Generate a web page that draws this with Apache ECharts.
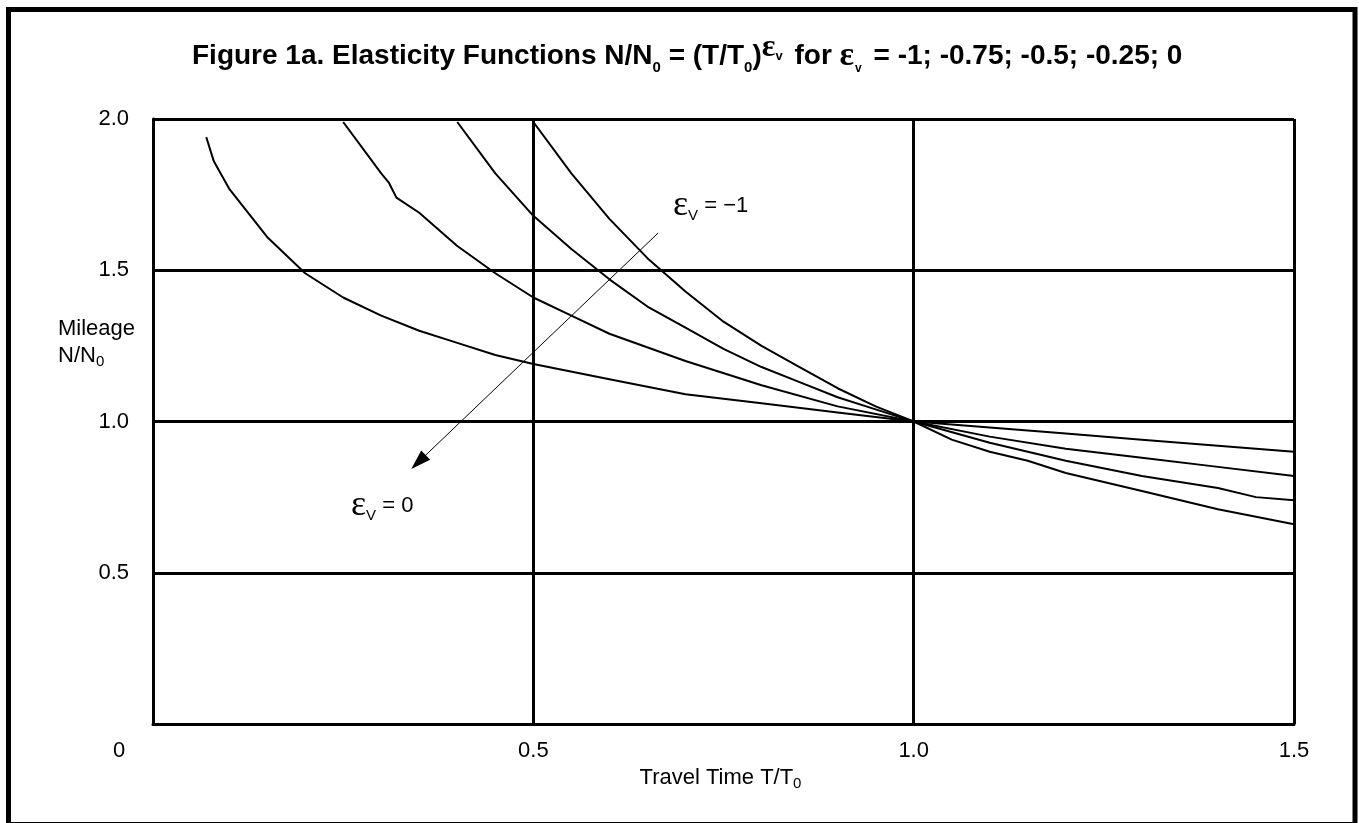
<!DOCTYPE html>
<html>
<head>
<meta charset="utf-8">
<title>Figure 1a</title>
<script src="https://cdn.jsdelivr.net/npm/echarts@6.0.0/dist/echarts.min.js"></script>
<style>
  html, body { margin: 0; padding: 0; background: #fff; }
  #chart { width: 1359px; height: 823px; }
</style>
</head>
<body>
<div id="chart"></div>
<script>
// elasticity -1
var eps100T = [0.50, 0.55, 0.60, 0.65, 0.70, 0.75, 0.80, 0.85, 0.90, 0.95, 1.00, 1.05, 1.10, 1.15, 1.20, 1.30, 1.40, 1.50];
var eps100N = [1.99, 1.82, 1.67, 1.54, 1.43, 1.33, 1.25, 1.18, 1.11, 1.05, 1.00, 0.94, 0.90, 0.87, 0.83, 0.77, 0.71, 0.66];
// elasticity -0.75
var eps075T = [0.40, 0.45, 0.50, 0.55, 0.60, 0.65, 0.70, 0.75, 0.80, 0.85, 0.90, 0.95, 1.00, 1.10, 1.20, 1.30, 1.40, 1.45, 1.50];
var eps075N = [1.99, 1.82, 1.68, 1.57, 1.47, 1.38, 1.31, 1.24, 1.18, 1.13, 1.08, 1.04, 1.00, 0.93, 0.87, 0.82, 0.78, 0.75, 0.74];
// elasticity -0.5
var eps050T = [0.25, 0.30, 0.31, 0.32, 0.35, 0.40, 0.45, 0.50, 0.55, 0.60, 0.70, 0.80, 0.90, 1.00, 1.10, 1.20, 1.30, 1.40, 1.50];
var eps050N = [1.99, 1.82, 1.79, 1.74, 1.69, 1.58, 1.49, 1.41, 1.35, 1.29, 1.20, 1.12, 1.05, 1.00, 0.95, 0.91, 0.88, 0.85, 0.82];
// elasticity -0.25
var eps025T = [0.07, 0.08, 0.10, 0.15, 0.20, 0.25, 0.30, 0.35, 0.40, 0.45, 0.50, 0.60, 0.70, 0.80, 0.90, 1.00, 1.10, 1.20, 1.30, 1.40, 1.50];
var eps025N = [1.94, 1.86, 1.77, 1.61, 1.49, 1.41, 1.35, 1.30, 1.26, 1.22, 1.19, 1.14, 1.09, 1.06, 1.03, 1.00, 0.98, 0.96, 0.94, 0.92, 0.90];
// elasticity 0
var eps000T = [0.00, 1.50];
var eps000N = [1.00, 1.00];

// arrow from the eps=-1 label towards the eps=0 label (data units)
var arrowFrom = [0.664, 1.623];
var arrowTo = [0.349, 0.866];

var xTicks = { min: 0, max: 1.5, step: 0.5 };
var yTicks = { min: 0, max: 2.0, step: 0.5 };

function pairs(t, n) {
  return t.map(function (v, i) { return [v, n[i]]; });
}

var sans = "'Liberation Sans', Arial, sans-serif";
var serif = "'Liberation Serif', 'DejaVu Serif', serif";

function curve(name, t, n) {
  return {
    name: name,
    type: 'line',
    data: pairs(t, n),
    symbol: 'none',
    smooth: false,
    lineStyle: { color: '#000', width: 2 },
    silent: true
  };
}

var series = [
  curve('-1', eps100T, eps100N),
  curve('-0.75', eps075T, eps075N),
  curve('-0.5', eps050T, eps050N),
  curve('-0.25', eps025T, eps025N),
  curve('0', eps000T, eps000N)
];
series[4].markLine = {
  silent: true,
  symbol: ['none', 'triangle'],
  symbolSize: [13, 20],
  label: { show: false },
  lineStyle: { color: '#000', width: 1, type: 'solid' },
  itemStyle: { color: '#000' },
  emphasis: { disabled: true },
  data: [[{ coord: arrowFrom }, { coord: arrowTo }]]
};

var chart = echarts.init(document.getElementById('chart'));
var option = {
  animation: false,
  backgroundColor: '#fff',
  title: {
    left: 192,
    top: 37,
    padding: 0,
    text: '{b|Figure 1a. Elasticity Functions N/N}{s|0}{b| = (T/T}{s|0}{b|)}{e|ε}{v|v}{b| for }{f|ε}{w|v}{b| = -1; -0.75; -0.5; -0.25; 0}',
    textStyle: {
      rich: {
        b: { fontFamily: sans, fontWeight: 'bold', fontSize: 28, color: '#000', lineHeight: 38 },
        s: { fontFamily: sans, fontWeight: 'bold', fontSize: 15, color: '#000', lineHeight: 12, verticalAlign: 'bottom' },
        e: { fontFamily: serif, fontSize: 32, color: '#000', lineHeight: 20, padding: [0, 0, 16, 0] },
        v: { fontFamily: sans, fontSize: 13, color: '#000', lineHeight: 14, padding: [0, 4, 0, 0] },
        f: { fontFamily: serif, fontSize: 34, color: '#000', lineHeight: 38 },
        w: { fontFamily: sans, fontSize: 12, color: '#000', lineHeight: 12, verticalAlign: 'bottom', padding: [0, 4, 0, 1] }
      }
    }
  },
  grid: { left: 153, top: 119, right: 65, bottom: 99, outerBoundsMode: 'none' },
  xAxis: {
    type: 'value',
    min: xTicks.min,
    max: xTicks.max,
    interval: xTicks.step,
    axisLine: { show: true, onZero: false, lineStyle: { color: '#000', width: 3 } },
    axisTick: { show: false },
    splitLine: { show: true, lineStyle: { color: '#000', width: 3 } },
    axisLabel: {
      margin: 16,
      color: '#000',
      fontFamily: sans,
      fontSize: 22,
      formatter: function (v) { return v === 0 ? '{z|0}' : v.toFixed(1); },
      rich: { z: { fontFamily: sans, fontSize: 22, color: '#000', padding: [0, 68, 0, 0] } }
    },
    name: '{n|Travel Time T/T}{s|0}',
    nameLocation: 'middle',
    nameGap: 34,
    nameTextStyle: {
      padding: [0, 0, 0, -6],
      rich: {
        n: { fontFamily: sans, fontSize: 22, color: '#000', lineHeight: 26 },
        s: { fontFamily: sans, fontSize: 15, color: '#000', lineHeight: 14, verticalAlign: 'bottom' }
      }
    }
  },
  yAxis: {
    type: 'value',
    min: yTicks.min,
    max: yTicks.max,
    interval: yTicks.step,
    axisLine: { show: true, onZero: false, lineStyle: { color: '#000', width: 3 } },
    axisTick: { show: false },
    splitLine: { show: true, lineStyle: { color: '#000', width: 3 } },
    axisLabel: {
      margin: 24,
      color: '#000',
      fontFamily: sans,
      fontSize: 22,
      formatter: function (v) { return v === 0 ? '' : v.toFixed(1); }
    }
  },
  graphic: [
    {
      // outer frame
      type: 'rect',
      silent: true,
      shape: { x: 8.5, y: 9.5, width: 1346.5, height: 815 },
      style: { fill: 'none', stroke: '#000', lineWidth: 5 }
    },
    {
      type: 'text',
      silent: true,
      left: 58,
      top: 318,
      style: {
        text: '{n|Mileage}\n{n|N/N}{s|0}',
        rich: {
          n: { fontFamily: sans, fontSize: 22, fill: '#000', lineHeight: 27 },
          s: { fontFamily: sans, fontSize: 15, fill: '#000', lineHeight: 12, verticalAlign: 'bottom' }
        }
      }
    },
    {
      type: 'text',
      silent: true,
      left: 673,
      top: 188,
      style: {
        text: '{e|ε}{v|V}{t| = −1}',
        rich: {
          e: { fontFamily: serif, fontSize: 36, fill: '#000', lineHeight: 34 },
          v: { fontFamily: sans, fontSize: 15, fill: '#000', lineHeight: 14, verticalAlign: 'bottom' },
          t: { fontFamily: sans, fontSize: 22, fill: '#000', lineHeight: 34 }
        }
      }
    },
    {
      type: 'text',
      silent: true,
      left: 351,
      top: 488,
      style: {
        text: '{e|ε}{v|V}{t| = 0}',
        rich: {
          e: { fontFamily: serif, fontSize: 36, fill: '#000', lineHeight: 34 },
          v: { fontFamily: sans, fontSize: 15, fill: '#000', lineHeight: 14, verticalAlign: 'bottom' },
          t: { fontFamily: sans, fontSize: 22, fill: '#000', lineHeight: 34 }
        }
      }
    }
  ],
  series: series
};
chart.setOption(option);
</script>
</body>
</html>
